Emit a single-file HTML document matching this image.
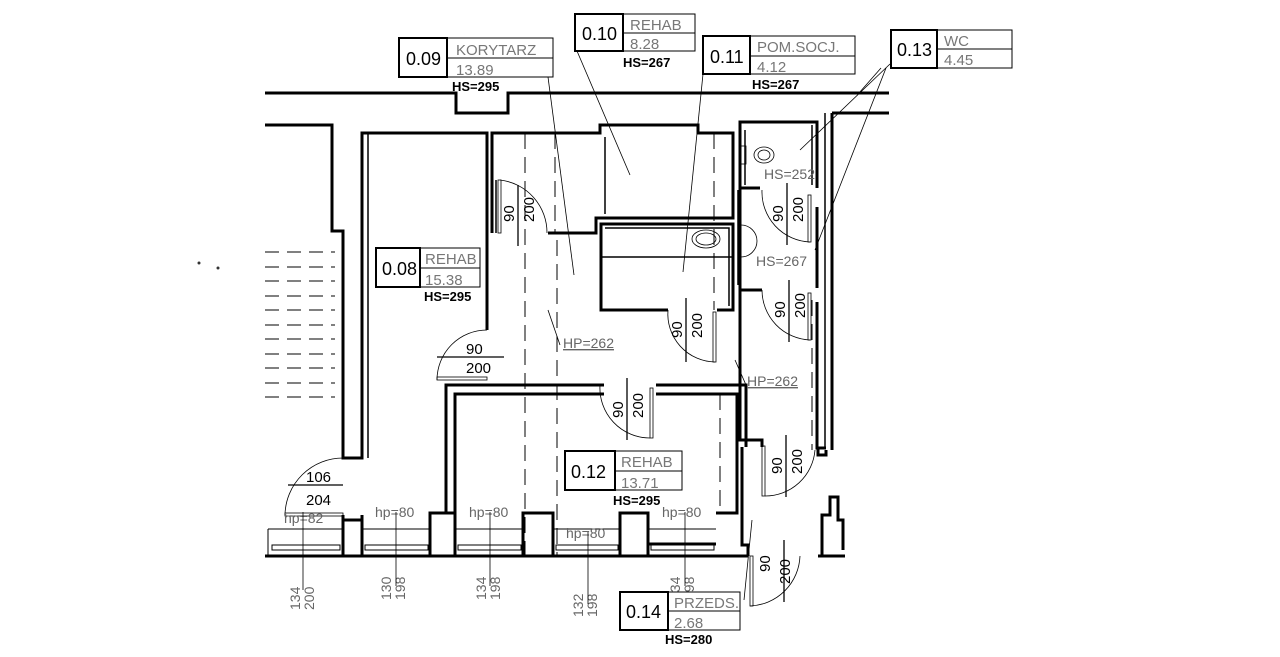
<!DOCTYPE html>
<html><head><meta charset="utf-8"><style>
html,body{margin:0;padding:0;background:#fff;width:1280px;height:657px;overflow:hidden}
svg{display:block}
text{font-family:"Liberation Sans Narrow","Liberation Sans",sans-serif}
.n{font-size:18px;fill:#000}
.g{font-size:15px;fill:#777}
.h{font-size:13px;fill:#000;font-weight:bold}
.d{font-size:15px;fill:#000}
.s{font-size:14px;fill:#666}
</style></head><body>
<svg width="1280" height="657" viewBox="0 0 1280 657" xmlns="http://www.w3.org/2000/svg">
<g fill="none" stroke="#000" stroke-width="3" stroke-linejoin="miter">
<polyline points="265,93 456,93 456,113 508,113 508,93 889,93"/>
<polyline points="265,125 332,125 332,231 343,231 343,458 362,458 362,133 487,133 487,330"/>
<polyline points="343,515 343,520 362,520 362,515"/>
<line x1="343" y1="520" x2="343" y2="556"/><line x1="362" y1="515" x2="362" y2="556"/>
<polyline points="492,233 492,133 600,133 600,125 698,125 698,133 733,133 733,218 596,218 596,233 548,233"/>
<polyline points="668,310 601,310 601,224 733,224 733,310 717,310"/>
<polyline points="740,310 740,122 817,122 817,188"/>
<polyline points="740,188 760,188"/><polyline points="740,290 762,290"/>
<polyline points="817,207 817,288"/><polyline points="817,302 817,448 826,448"/>
<polyline points="832,113 889,113"/><polyline points="832,113 832,450"/>
<polyline points="740,310 740,440 762,440 762,447"/>
<polyline points="742,447 742,545 748,545 748,556"/>
<polyline points="446,513 446,385 604,385"/><polyline points="656,385 746,385 746,447"/>
<polyline points="455,513 455,394 604,394"/><polyline points="656,394 737,394 737,513 716,513"/>
<rect x="523" y="513" width="30" height="43"/><rect x="620" y="513" width="28" height="43"/>
<rect x="430" y="513" width="25" height="43"/>
<polyline points="822,556 822,515 830,515 830,497 838,497 838,520 843,520 843,550"/>
<polyline points="818,448 818,455 826,455 826,450"/>
<line x1="265" y1="556" x2="748" y2="556"/><line x1="818" y1="556" x2="845" y2="556"/>
</g>
<g fill="none" stroke="#000" stroke-width="1.5">
<line x1="368" y1="133" x2="368" y2="458"/>
<line x1="496" y1="180" x2="496" y2="233"/>
<polyline points="605,214 605,137"/>
<polyline points="605,228 729,228 729,306"/>
<line x1="601" y1="257" x2="733" y2="257"/>
<line x1="745" y1="130" x2="745" y2="185"/>
<line x1="812" y1="125" x2="812" y2="185"/>
<line x1="738" y1="190" x2="738" y2="285"/>
<line x1="825" y1="113" x2="825" y2="448"/>
<g stroke-width="1">
<line x1="268" y1="529" x2="343" y2="529"/><line x1="362" y1="529" x2="430" y2="529"/>
<line x1="455" y1="529" x2="523" y2="529"/><line x1="553" y1="529" x2="620" y2="529"/>
<line x1="648" y1="529" x2="716" y2="529"/>
<rect x="272" y="545" width="68" height="5"/><rect x="365" y="545" width="63" height="5"/>
<rect x="458" y="545" width="63" height="5"/><rect x="556" y="545" width="62" height="5"/>
<rect x="651" y="545" width="63" height="5"/>
<line x1="268" y1="529" x2="268" y2="556"/>
</g>
<line x1="648" y1="544" x2="716" y2="544" stroke-width="3"/>
</g>
<g stroke="#000" stroke-width="1" stroke-dasharray="16,8">
<line x1="525" y1="133" x2="525" y2="556"/><line x1="555" y1="133" x2="555" y2="233"/>
<line x1="557" y1="240" x2="557" y2="556"/><line x1="714" y1="133" x2="714" y2="310"/>
<line x1="720" y1="394" x2="720" y2="513"/><line x1="740" y1="330" x2="740" y2="440"/>
<line x1="812" y1="300" x2="812" y2="450"/>
</g>
<g stroke="#000" stroke-width="1" stroke-dasharray="14,8">
<line x1="265" y1="252" x2="335" y2="252"/><line x1="265" y1="267" x2="335" y2="267"/>
<line x1="265" y1="281" x2="335" y2="281"/><line x1="265" y1="296" x2="335" y2="296"/>
<line x1="265" y1="310" x2="335" y2="310"/><line x1="265" y1="325" x2="335" y2="325"/>
<line x1="265" y1="339" x2="335" y2="339"/><line x1="265" y1="354" x2="335" y2="354"/>
<line x1="265" y1="368" x2="335" y2="368"/><line x1="265" y1="383" x2="335" y2="383"/>
<line x1="265" y1="397" x2="335" y2="397"/>
</g>
<circle cx="199" cy="263" r="1.5" fill="#333"/><circle cx="218" cy="268" r="1.5" fill="#333"/>
<g fill="none" stroke="#000" stroke-width="0.8">
<path d="M500,180 A53,53 0 0 1 547,233"/><rect x="498" y="180" width="3" height="53"/>
<path d="M487,330 A50,50 0 0 0 437,380"/><rect x="437" y="377" width="50" height="3"/>
<path d="M343,458 A58,58 0 0 0 285,515"/><rect x="285" y="513" width="58" height="3"/>
<path d="M668,310 A48,48 0 0 0 715,362"/><rect x="713" y="312" width="3" height="50"/>
<path d="M600,385 A50,50 0 0 0 650,438"/><rect x="650" y="388" width="3" height="50"/>
<path d="M762,190 A50,50 0 0 0 810,242"/><rect x="808" y="195" width="3" height="47"/>
<path d="M762,290 A50,50 0 0 0 810,340"/><rect x="808" y="293" width="3" height="47"/>
<path d="M815,450 A50,50 0 0 1 765,496"/><rect x="762" y="446" width="3" height="50"/>
<path d="M800,556 A52,52 0 0 1 750,606"/><rect x="750" y="556" width="3" height="50"/>
<ellipse cx="764" cy="155" rx="10" ry="8"/><ellipse cx="764" cy="155" rx="6" ry="5"/>
<rect x="741" y="146" width="5" height="18"/>
<path d="M741,225 A16,16 0 0 1 741,257"/>
<ellipse cx="706" cy="239" rx="14" ry="9"/><ellipse cx="706" cy="239" rx="10" ry="6"/>
</g>
<g stroke="#000" stroke-width="1.3">
<line x1="518" y1="185" x2="518" y2="246"/><line x1="686" y1="298" x2="686" y2="362"/>
<line x1="437" y1="357" x2="504" y2="357"/><line x1="288" y1="485" x2="343" y2="485"/>
<line x1="627" y1="378" x2="627" y2="440"/><line x1="787" y1="183" x2="787" y2="245"/>
<line x1="789" y1="280" x2="789" y2="342"/><line x1="786" y1="435" x2="786" y2="497"/>
<line x1="784" y1="540" x2="784" y2="602"/>
</g>
<g class="d">
<text x="466" y="354">90</text><text x="466" y="373">200</text>
<text x="306" y="482">106</text><text x="306" y="505">204</text>
<text transform="translate(514,222) rotate(-90)">90</text><text transform="translate(534,222) rotate(-90)">200</text>
<text transform="translate(682,338) rotate(-90)">90</text><text transform="translate(702,338) rotate(-90)">200</text>
<text transform="translate(623,418) rotate(-90)">90</text><text transform="translate(643,418) rotate(-90)">200</text>
<text transform="translate(783,222) rotate(-90)">90</text><text transform="translate(803,222) rotate(-90)">200</text>
<text transform="translate(785,318) rotate(-90)">90</text><text transform="translate(805,318) rotate(-90)">200</text>
<text transform="translate(782,474) rotate(-90)">90</text><text transform="translate(802,474) rotate(-90)">200</text>
<text transform="translate(770,572) rotate(-90)">90</text><text transform="translate(790,584) rotate(-90)">200</text>
</g>
<g class="s">
<text x="284" y="523">hp=82</text><text x="375" y="517">hp=80</text><text x="469" y="517">hp=80</text>
<text x="566" y="538">hp=80</text><text x="662" y="517">hp=80</text>
<text x="563" y="348" text-decoration="underline">HP=262</text>
<text x="747" y="386" text-decoration="underline">HP=262</text>
<text x="764" y="179">HS=252</text><text x="756" y="266">HS=267</text>
<text transform="translate(300,610) rotate(-90)">134</text><text transform="translate(314,610) rotate(-90)">200</text>
<text transform="translate(391,600) rotate(-90)">130</text><text transform="translate(405,600) rotate(-90)">198</text>
<text transform="translate(486,600) rotate(-90)">134</text><text transform="translate(500,600) rotate(-90)">198</text>
<text transform="translate(583,617) rotate(-90)">132</text><text transform="translate(597,617) rotate(-90)">198</text>
<text transform="translate(680,600) rotate(-90)">134</text><text transform="translate(694,600) rotate(-90)">198</text>
</g>
<g stroke="#000" stroke-width="0.8">
<line x1="303" y1="512" x2="303" y2="590"/><line x1="396" y1="512" x2="396" y2="586"/>
<line x1="490" y1="512" x2="490" y2="586"/><line x1="588" y1="532" x2="588" y2="604"/>
<line x1="685" y1="512" x2="685" y2="586"/>
<line x1="548" y1="77" x2="574" y2="275"/><line x1="577" y1="51" x2="630" y2="175"/>
<line x1="703" y1="74" x2="683" y2="272"/>
<line x1="890" y1="64" x2="800" y2="150"/><line x1="886" y1="68" x2="815" y2="250"/>
<line x1="881" y1="68" x2="859" y2="93"/>
<line x1="744" y1="600" x2="752" y2="520"/>
<line x1="548" y1="310" x2="560" y2="345"/><line x1="735" y1="360" x2="746" y2="385"/>
</g>
<g fill="#fff" stroke="#000">
<rect x="399" y="38" width="154" height="39" stroke-width="1"/><rect x="399" y="38" width="48" height="39" stroke-width="2"/><line x1="447" y1="58" x2="553" y2="58"/>
<rect x="575" y="14" width="120" height="37" stroke-width="1"/><rect x="575" y="14" width="48" height="37" stroke-width="2"/><line x1="623" y1="33" x2="695" y2="33"/>
<rect x="703" y="36" width="152" height="38" stroke-width="1"/><rect x="703" y="36" width="47" height="38" stroke-width="2"/><line x1="750" y1="56" x2="855" y2="56"/>
<rect x="891" y="30" width="121" height="38" stroke-width="1"/><rect x="891" y="30" width="46" height="38" stroke-width="2"/><line x1="937" y1="49" x2="1012" y2="49"/>
<rect x="376" y="248" width="104" height="39" stroke-width="1"/><rect x="376" y="248" width="44" height="39" stroke-width="2"/><line x1="420" y1="268" x2="480" y2="268"/>
<rect x="565" y="451" width="117" height="39" stroke-width="1"/><rect x="565" y="451" width="50" height="39" stroke-width="2"/><line x1="615" y1="471" x2="682" y2="471"/>
<rect x="620" y="592" width="120" height="38" stroke-width="1"/><rect x="620" y="592" width="48" height="38" stroke-width="2"/><line x1="668" y1="611" x2="740" y2="611"/>
</g>
<g class="n">
<text x="406" y="65">0.09</text><text x="582" y="40">0.10</text><text x="710" y="63">0.11</text>
<text x="897" y="56">0.13</text><text x="382" y="275">0.08</text><text x="571" y="478">0.12</text><text x="626" y="618">0.14</text>
</g>
<g class="g">
<text x="456" y="55">KORYTARZ</text><text x="456" y="75">13.89</text>
<text x="630" y="30">REHAB</text><text x="630" y="49">8.28</text>
<text x="757" y="52">POM.SOCJ.</text><text x="757" y="72">4.12</text>
<text x="944" y="46">WC</text><text x="944" y="65">4.45</text>
<text x="425" y="264">REHAB</text><text x="425" y="285">15.38</text>
<text x="621" y="467">REHAB</text><text x="621" y="488">13.71</text>
<text x="674" y="608">PRZEDS.</text><text x="674" y="628">2.68</text>
</g>
<g class="h">
<text x="452" y="91">HS=295</text><text x="623" y="67">HS=267</text><text x="752" y="89">HS=267</text>
<text x="424" y="301">HS=295</text><text x="613" y="505">HS=295</text><text x="665" y="644">HS=280</text>
</g>
</svg>
</body></html>
